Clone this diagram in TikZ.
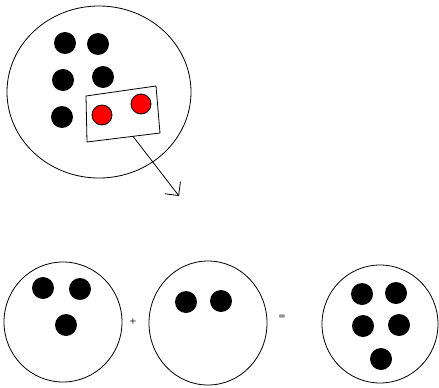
\documentclass[tikz,border=0pt]{standalone}
\usepackage{tikz}
\usetikzlibrary{arrows.meta,positioning,shapes.geometric,calc}
\tikzset{
  bag/.style={draw,ellipse,line width=0.8pt,inner sep=0pt},
  dot/.style={circle,fill=black,minimum size=22pt,inner sep=0pt},
  reddot/.style={circle,draw,fill=red,line width=0.8pt,minimum size=20pt,inner sep=0pt},
  sign/.style={font=\sffamily\bfseries\footnotesize,inner sep=0pt}
}

\begin{document}
\begin{tikzpicture}[x=1pt,y=-1pt,line width=0.8pt]
  \useasboundingbox (0,0) rectangle (439,388);
  % the set with a chosen part
  \node[bag,minimum width=184pt,minimum height=172pt] (big) at (99,92) {};
  \node[dot] (b1) at (65,43) {};
  \node[dot] (b2) at (98,44) {};
  \node[dot] (b3) at (63,80) {};
  \node[dot] (b4) at (103,77) {};
  \node[dot] (b5) at (62,117) {};
  \coordinate (q1) at (86,96);
  \coordinate (q2) at (156,86);
  \coordinate (q3) at (160,133);
  \coordinate (q4) at (87,142);
  \draw (q1)--(q2)--(q3)--(q4)--cycle;
  \node[reddot] (r1) at (102,115) {};
  \node[reddot] (r2) at (141,104) {};
  \coordinate (from) at ($(q4)!0.63!(q3)$);
  \coordinate (tip) at (179,196);
  \draw[-{Straight Barb[angle=90:14pt]}] (from)--(tip);

  % the sum below
  \node[bag,minimum width=118pt,minimum height=120pt] (left) at (63,322) {};
  \node[dot] (l1) at (43,288) {};
  \node[dot] (l2) at (80,289) {};
  \node[dot] (l3) at (66,325) {};
  \node[sign] (plus) at (133,321) {+};
  \node[bag,minimum width=118pt,minimum height=124pt] (mid) at (208,323) {};
  \node[dot] (m1) at (186,302) {};
  \node[dot] (m2) at (221,301) {};
  \node[sign] (eq) at (282,317) {=};
  \node[bag,minimum width=116pt,minimum height=118pt] (right) at (380,324) {};
  \node[dot] (s1) at (362,294) {};
  \node[dot] (s2) at (396,293) {};
  \node[dot] (s3) at (363,326) {};
  \node[dot] (s4) at (399,325) {};
  \node[dot] (s5) at (381,359) {};
\end{tikzpicture}
\end{document}
